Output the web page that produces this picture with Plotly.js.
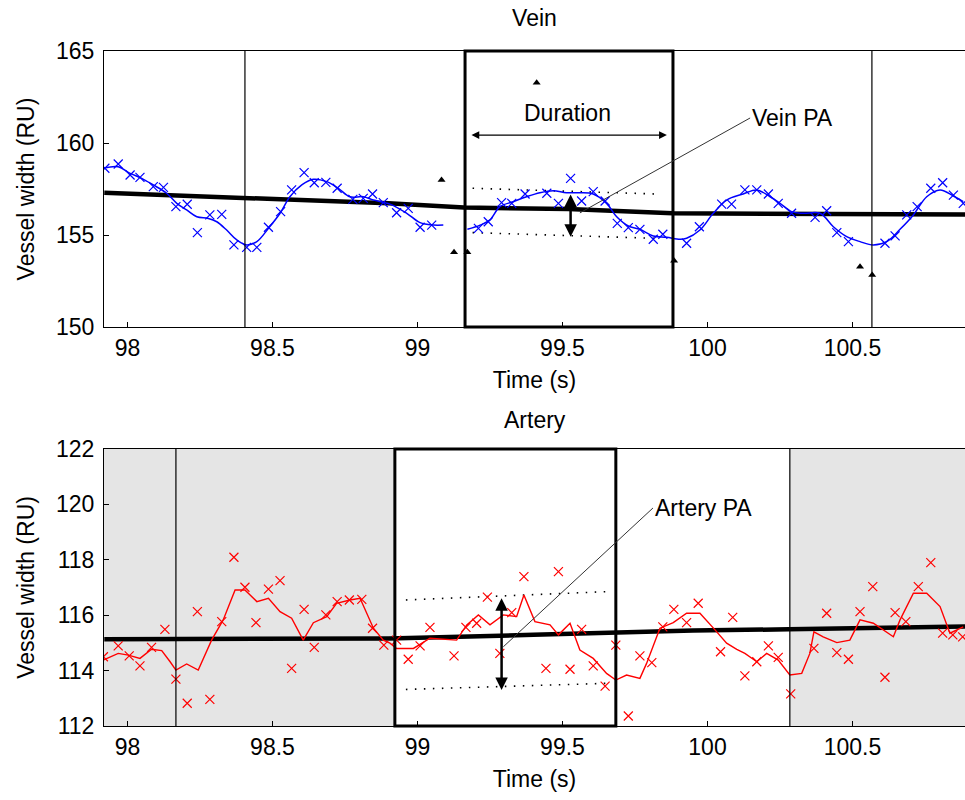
<!DOCTYPE html>
<html><head><meta charset="utf-8">
<script src="https://cdn.plot.ly/plotly-3.0.1.min.js"></script>
<style>body{margin:0;background:#fff}#chart{width:965px;height:800px}</style>
</head><body><div id="chart"></div>
<script>
// ---------- Vein (top) ----------
const veinT = [97.922,97.968,98.009,98.043,98.089,98.124,98.167,98.206,98.241,98.284,98.325,98.367,98.411,98.446,98.486,98.528,98.566,98.609,98.644,98.684,98.723,98.777,98.813,98.845,98.882,98.928,98.968,99.009,99.049,99.21,99.244,99.29,99.325,99.371,99.446,99.486,99.528,99.566,99.606,99.647,99.689,99.727,99.767,99.813,99.846,99.928,99.972,100.049,100.083,100.129,100.170,100.210,100.244,100.290,100.371,100.411,100.446,100.486,100.612,100.647,100.687,100.723,100.770,100.811,100.848,100.882];
const veinV = [158.63,158.86,158.26,158.13,157.63,157.59,156.54,156.67,155.13,156.09,156.12,154.46,154.33,154.33,155.42,156.27,157.45,158.39,157.84,157.86,157.54,156.94,156.99,157.23,156.76,156.21,156.45,155.42,155.54,155.36,155.72,156.76,156.72,157.23,157.27,156.72,158.08,156.85,157.36,156.85,155.63,155.40,155.31,154.77,155.04,154.55,155.45,156.68,156.68,157.45,157.45,157.23,156.72,156.18,155.96,156.32,155.13,154.64,154.55,154.95,156.09,156.54,157.54,157.84,157.17,156.72];
const veinFitT = [97.917,97.968,98.009,98.049,98.089,98.135,98.170,98.204,98.239,98.279,98.308,98.342,98.377,98.411,98.446,98.486,98.526,98.560,98.601,98.641,98.687,98.727,98.767,98.813,98.848,98.905,98.963,99.009,99.055,99.089,99.13,99.172,99.216,99.250,99.284,99.330,99.376,99.422,99.468,99.514,99.560,99.606,99.652,99.687,99.727,99.767,99.813,99.859,99.905,99.928,99.974,100.020,100.066,100.123,100.170,100.216,100.250,100.290,100.330,100.388,100.434,100.480,100.526,100.572,100.618,100.664,100.710,100.756,100.802,100.848,100.882];
const veinFitV = [158.63,158.71,158.35,158.08,157.72,157.27,156.72,156.36,155.99,155.90,155.72,155.27,154.73,154.46,154.64,155.36,156.18,157.08,157.72,158.03,157.90,157.54,157.08,157.08,156.90,156.68,156.18,155.67,155.54,155.54,null,155.31,155.54,155.82,156.54,156.81,157.08,157.30,157.41,157.30,157.30,157.23,156.72,155.99,155.49,155.31,154.95,154.88,154.77,154.82,155.27,156.18,156.90,157.23,157.45,157.08,156.72,156.27,156.18,156.18,155.45,154.91,154.64,154.46,154.64,155.31,156.09,157.08,157.45,157.12,156.81];
const veinTrendT = [97.92,98.41,98.90,99.16,99.52,99.88,100.57,100.89];
const veinTrendV = [157.30,156.99,156.72,156.49,156.41,156.18,156.14,156.12];
const veinPeakT = [99.411,99.083,99.126,99.172,99.885,100.526,100.568];
const veinPeakV = [163.28,157.99,154.06,154.06,153.60,153.28,152.83];
const veinBeatLines = [98.405,100.567];
const veinCycle = [99.164,99.881];
const veinBandT = [99.19,99.82];
const veinBandUpper = [157.54,157.23];
const veinBandLower = [155.13,154.82];
const veinPA = {t:99.528, lo:154.91, hi:157.28};
const veinDuration = {t0:99.181, t1:99.860, v:160.43};

// ---------- Artery (bottom) ----------
const artT = [97.917,97.968,98.006,98.043,98.083,98.129,98.167,98.206,98.241,98.284,98.325,98.367,98.405,98.443,98.486,98.526,98.566,98.609,98.644,98.684,98.723,98.765,98.808,98.845,98.884,98.928,98.968,99.009,99.043,99.126,99.167,99.204,99.241,99.284,99.325,99.367,99.443,99.486,99.526,99.566,99.606,99.647,99.684,99.727,99.767,99.808,99.846,99.884,99.928,99.968,100.045,100.087,100.129,100.170,100.210,100.244,100.287,100.367,100.411,100.446,100.486,100.526,100.570,100.612,100.647,100.684,100.727,100.770,100.811,100.846,100.880];
const artV = [114.50,114.89,114.53,114.17,114.84,115.49,113.69,112.82,116.13,112.96,115.77,118.09,117.01,115.73,116.94,117.25,114.08,116.21,114.84,116.01,116.49,116.55,116.57,115.53,114.92,115.10,114.41,114.89,115.56,114.53,115.56,115.71,116.65,114.62,116.09,117.39,114.08,117.57,114.05,115.49,114.17,113.44,114.92,112.36,114.53,114.29,115.58,116.21,115.73,116.43,114.68,115.92,113.81,114.32,114.89,114.48,113.16,114.80,116.07,114.65,114.41,116.13,117.03,113.76,116.09,115.77,117.03,117.90,115.35,115.29,115.22];
const artFitT = [97.917,97.940,97.968,98.003,98.014,98.043,98.083,98.118,98.147,98.167,98.204,98.244,98.290,98.330,98.371,98.405,98.446,98.486,98.526,98.566,98.606,98.641,98.687,98.721,98.767,98.802,98.848,98.882,98.905,98.928,98.986,99.043,99.135,99.170,99.210,99.250,99.296,99.342,99.367,99.405,99.457,99.486,99.526,99.560,99.606,99.652,99.684,99.721,99.767,99.790,99.836,99.882,99.928,99.974,100.026,100.066,100.101,100.129,100.170,100.204,100.244,100.284,100.325,100.353,100.367,100.399,100.446,100.491,100.526,100.572,100.641,100.664,100.710,100.756,100.802,100.836,100.882];
const artFitV = [114.38,114.50,114.62,114.56,114.53,114.44,114.77,114.72,114.32,114.02,114.24,114.02,115.10,115.83,116.91,116.91,116.49,116.61,116.13,115.89,115.10,115.73,115.95,116.43,116.55,116.61,115.53,115.10,114.99,114.80,114.80,115.17,115.10,115.65,116.01,115.65,116.01,115.95,116.73,115.77,115.65,115.29,115.71,114.74,114.44,113.90,113.66,113.84,113.72,114.26,115.53,115.73,116.07,116.07,115.47,114.99,114.77,114.62,114.32,114.62,114.38,113.84,113.90,114.62,115.40,115.22,115.01,115.10,115.83,115.71,115.22,115.83,116.79,116.79,116.31,115.35,115.58];
const artTrendT = [97.92,98.90,99.40,99.68,99.95,100.28,100.89];
const artTrendV = [115.13,115.16,115.29,115.38,115.45,115.49,115.59];
const artBeatLines = [98.167,100.284];
const artCycle = [98.922,99.684];
const artBandT = [98.96,99.65];
const artBandUpper = [116.55,116.85];
const artBandLower = [113.32,113.54];
const artPA = {t:99.290, lo:113.30, hi:116.67};

// labels & pointers
const veinPALabel = {t:100.147, v:161.36, fromT:99.56, fromV:156.20};
const artPALabel = {t:99.812, v:119.87, fromT:99.296, fromV:114.86};
const durationLabel = {t:99.516, v:161.63};

const xTicks = [98,98.5,99,99.5,100,100.5];
const xTickText = ['98','98.5','99','99.5','100','100.5'];
const xRange = [97.919,100.888];

const F = 'Liberation Sans, Arial, sans-serif';
const FS = 23;
const DOT = '1.5px,7.5px';

const traces = [
  {x:veinTrendT, y:veinTrendV, mode:'lines', line:{color:'#000',width:4.5}, xaxis:'x', yaxis:'y', hoverinfo:'skip'},
  {x:veinBandT, y:veinBandUpper, mode:'lines', line:{color:'#000',width:1.6,dash:DOT}, xaxis:'x', yaxis:'y'},
  {x:veinBandT, y:veinBandLower, mode:'lines', line:{color:'#000',width:1.6,dash:DOT}, xaxis:'x', yaxis:'y'},
  {x:veinFitT, y:veinFitV, mode:'lines', line:{color:'#0000ff',width:1.5,shape:'spline'}, connectgaps:false, xaxis:'x', yaxis:'y'},
  {x:veinT, y:veinV, mode:'markers', marker:{symbol:'x-thin',size:9,line:{color:'#0000ff',width:1.2},color:'#0000ff'}, xaxis:'x', yaxis:'y'},
  {x:veinPeakT, y:veinPeakV, mode:'markers', marker:{symbol:'triangle-up',size:7,color:'#000'}, xaxis:'x', yaxis:'y'},

  {x:artTrendT, y:artTrendV, mode:'lines', line:{color:'#000',width:4.5}, xaxis:'x2', yaxis:'y2'},
  {x:artBandT, y:artBandUpper, mode:'lines', line:{color:'#000',width:1.6,dash:DOT}, xaxis:'x2', yaxis:'y2'},
  {x:artBandT, y:artBandLower, mode:'lines', line:{color:'#000',width:1.6,dash:DOT}, xaxis:'x2', yaxis:'y2'},
  {x:artFitT, y:artFitV, mode:'lines', line:{color:'#ff0000',width:1.4}, xaxis:'x2', yaxis:'y2'},
  {x:artT, y:artV, mode:'markers', marker:{symbol:'x-thin',size:9,line:{color:'#ff0000',width:1.2},color:'#ff0000'}, xaxis:'x2', yaxis:'y2'}
];

const shapes = [];
veinBeatLines.forEach(t => shapes.push({type:'line', xref:'x', yref:'y domain', x0:t, x1:t, y0:0, y1:1, line:{color:'#000',width:1.2}}));
shapes.push({type:'rect', xref:'x', yref:'y domain', x0:veinCycle[0], x1:veinCycle[1], y0:0, y1:1, line:{color:'#000',width:3}});
shapes.push({type:'line', xref:'x', yref:'y', x0:veinPALabel.fromT, y0:veinPALabel.fromV, x1:veinPALabel.t, y1:veinPALabel.v, line:{color:'#333',width:1}});
shapes.push({type:'rect', xref:'x2', yref:'y2 domain', x0:xRange[0], x1:artCycle[0], y0:0, y1:1, fillcolor:'#e5e5e5', line:{width:0}, layer:'below'});
shapes.push({type:'rect', xref:'x2', yref:'y2 domain', x0:artBeatLines[1], x1:xRange[1], y0:0, y1:1, fillcolor:'#e5e5e5', line:{width:0}, layer:'below'});
artBeatLines.forEach(t => shapes.push({type:'line', xref:'x2', yref:'y2 domain', x0:t, x1:t, y0:0, y1:1, line:{color:'#000',width:1.2}}));
shapes.push({type:'rect', xref:'x2', yref:'y2 domain', x0:artCycle[0], x1:artCycle[1], y0:0, y1:1, line:{color:'#000',width:3}});
shapes.push({type:'line', xref:'x2', yref:'y2', x0:artPALabel.fromT, y0:artPALabel.fromV, x1:artPALabel.t, y1:artPALabel.v, line:{color:'#333',width:1}});

const annotations = [
  {xref:'x', yref:'y', axref:'x', ayref:'y', x:veinDuration.t1, y:veinDuration.v, ax:veinDuration.t0, ay:veinDuration.v, text:'', showarrow:true, arrowside:'start+end', arrowhead:2, arrowsize:1.3, arrowwidth:1.2, arrowcolor:'#000'},
  {xref:'x', yref:'y', x:durationLabel.t, y:durationLabel.v, text:'Duration', showarrow:false, font:{family:F,size:FS,color:'#000'}},
  {xref:'x', yref:'y', axref:'x', ayref:'y', x:veinPA.t, y:veinPA.lo, ax:veinPA.t, ay:veinPA.hi, text:'', showarrow:true, arrowside:'start+end', arrowhead:2, arrowsize:1, arrowwidth:2.5, arrowcolor:'#000'},
  {xref:'x', yref:'y', x:veinPALabel.t, y:veinPALabel.v, text:'Vein PA', showarrow:false, xanchor:'left', font:{family:F,size:FS,color:'#000'}},
  {xref:'x2', yref:'y2', axref:'x2', ayref:'y2', x:artPA.t, y:artPA.lo, ax:artPA.t, ay:artPA.hi, text:'', showarrow:true, arrowside:'start+end', arrowhead:2, arrowsize:1, arrowwidth:2.5, arrowcolor:'#000'},
  {xref:'x2', yref:'y2', x:artPALabel.t, y:artPALabel.v, text:'Artery PA', showarrow:false, xanchor:'left', font:{family:F,size:FS,color:'#000'}},
  {xref:'paper', yref:'paper', x:0.5, y:0.4533, text:'Artery', showarrow:false, yanchor:'middle', font:{family:F,size:FS,color:'#000'}}
];

const axCommon = {showgrid:false, zeroline:false, showline:true, linecolor:'#000', linewidth:1, ticks:'inside', ticklen:5, tickcolor:'#000', tickfont:{family:F,size:FS,color:'#000'}};

const layout = {
  width:965, height:800,
  margin:{l:104, r:0, t:51, b:74},
  paper_bgcolor:'#fff', plot_bgcolor:'#fff',
  showlegend:false,
  font:{family:F, size:FS, color:'#000'},
  title:{text:'Vein', x:0.5, xref:'paper', y:0.9775, yanchor:'middle', font:{family:F,size:FS,color:'#000'}},
  xaxis:Object.assign({}, axCommon, {domain:[0,1], anchor:'y', range:xRange, tickvals:xTicks, ticktext:xTickText, mirror:true, title:{text:'Time (s)', font:{family:F,size:FS}, standoff:12}}),
  yaxis:Object.assign({}, axCommon, {domain:[0.5911,1], anchor:'x', range:[150,165], tickvals:[150,155,160,165], ticklabelstandoff:4, title:{text:'Vessel width (RU)', font:{family:F,size:FS}, standoff:14}}),
  xaxis2:Object.assign({}, axCommon, {domain:[0,1], anchor:'y2', range:xRange, tickvals:xTicks, ticktext:xTickText, mirror:true, title:{text:'Time (s)', font:{family:F,size:FS}, standoff:12}}),
  yaxis2:Object.assign({}, axCommon, {domain:[0,0.4104], anchor:'x2', range:[112,122], tickvals:[112,114,116,118,120,122], ticklabelstandoff:4, title:{text:'Vessel width (RU)', font:{family:F,size:FS}, standoff:14}}),
  shapes:shapes, annotations:annotations
};

Plotly.newPlot('chart', traces, layout, {displayModeBar:false, staticPlot:true});
</script></body></html>
